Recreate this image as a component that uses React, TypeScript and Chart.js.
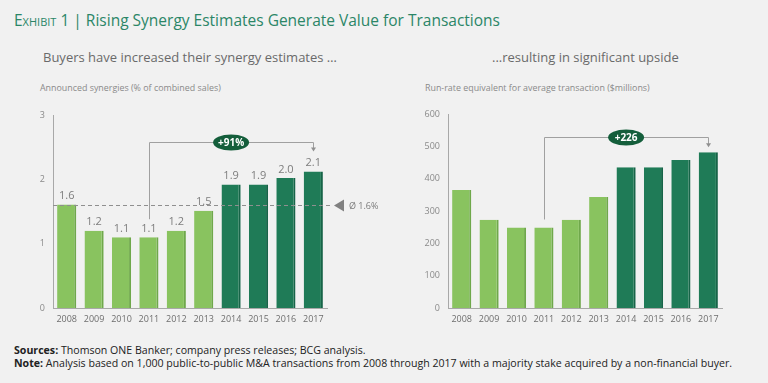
import React, { useEffect, useRef } from "react";
import { Chart, registerables } from "chart.js";
Chart.register(...registerables);

const years = ["2008", "2009", "2010", "2011", "2012", "2013", "2014", "2015", "2016", "2017"];
const synergies = [1.61, 1.2, 1.1, 1.1, 1.2, 1.51, 1.92, 1.92, 2.02, 2.12];
const synergyLabels = ["1.6", "1.2", "1.1", "1.1", "1.2", "1.5", "1.9", "1.9", "2.0", "2.1"];
const runRate = [365, 273, 249, 249, 273, 343, 435, 435, 458, 482];
const synergyAverage = 1.6;
const synergyAvgLabel = "Ø 1.6%";
const synergyDelta = "+91%";
const runRateDelta = "+226";
const darkFromIndex = 6;
const bracketFrom = 3;
const bracketTo = 9;

const FONT = "'Open Sans', 'Noto Sans', sans-serif";
const LIGHT = "#89c35f";
const LIGHT_EDGE = "#6fa84b";
const DARK = "#1f7b57";
const DARK_EDGE = "#176448";
const PILL = "#145e3b";

function makePlugin(opts: { values: number[]; labels?: string[]; delta: string; avg?: number; avgLabel?: string }) {
  return {
    id: "annot",
    afterDatasetsDraw(chart: any) {
      const { ctx, scales, chartArea } = chart;
      const xs = scales.x, ys = scales.y;
      ctx.save();
      // average line
      if (opts.avg !== undefined) {
        const yy = Math.round(ys.getPixelForValue(opts.avg)) + 0.5;
        ctx.strokeStyle = "#8f8f8f";
        ctx.lineWidth = 1;
        ctx.setLineDash([4, 3]);
        ctx.beginPath();
        ctx.moveTo(chartArea.left, yy);
        ctx.lineTo(chartArea.right + 3, yy);
        ctx.stroke();
        ctx.setLineDash([]);
        ctx.fillStyle = "#808080";
        ctx.beginPath();
        ctx.moveTo(chartArea.right + 7, yy);
        ctx.lineTo(chartArea.right + 17, yy - 6);
        ctx.lineTo(chartArea.right + 17, yy + 6);
        ctx.closePath();
        ctx.fill();
        ctx.fillStyle = "#7a7a7a";
        ctx.font = `9px ${FONT}`;
        ctx.textAlign = "left";
        ctx.textBaseline = "middle";
        ctx.fillText(opts.avgLabel || "", chartArea.right + 22, yy + 0.5);
      }
      // value labels
      if (opts.labels) {
        ctx.fillStyle = "#7d7d7d";
        ctx.font = `11px ${FONT}`;
        ctx.textAlign = "center";
        ctx.textBaseline = "bottom";
        opts.values.forEach((v, i) => {
          ctx.fillText(opts.labels![i], xs.getPixelForValue(i), ys.getPixelForValue(v) - 3);
        });
      }
      // bracket
      const x1 = Math.round(xs.getPixelForValue(bracketFrom)) + 0.5;
      const x2 = Math.round(xs.getPixelForValue(bracketTo)) + 0.5;
      const yStart = ys.getPixelForValue(opts.values[bracketFrom]) - (opts.labels ? 18 : 8);
      const maxV = opts.values[bracketTo];
      const yTop = Math.round(ys.getPixelForValue(maxV) - (opts.labels ? 30 : 15)) + 0.5;
      const yEnd = ys.getPixelForValue(maxV) - (opts.labels ? 20 : 5);
      ctx.strokeStyle = "#a0a0a0";
      ctx.lineWidth = 1;
      ctx.beginPath();
      ctx.moveTo(x1, yStart);
      ctx.lineTo(x1, yTop);
      ctx.lineTo(x2, yTop);
      ctx.lineTo(x2, yEnd - 3);
      ctx.stroke();
      ctx.fillStyle = "#909090";
      ctx.beginPath();
      ctx.moveTo(x2 - 2.5, yEnd - 4);
      ctx.lineTo(x2 + 2.5, yEnd - 4);
      ctx.lineTo(x2, yEnd);
      ctx.closePath();
      ctx.fill();
      // pill
      const pcx = xs.getPixelForValue((bracketFrom + bracketTo) / 2);
      ctx.fillStyle = PILL;
      ctx.beginPath();
      ctx.ellipse(pcx, yTop, 18, 8, 0, 0, Math.PI * 2);
      ctx.fill();
      ctx.fillStyle = "#ffffff";
      ctx.font = `bold 10px ${FONT}`;
      ctx.textAlign = "center";
      ctx.textBaseline = "middle";
      ctx.fillText(opts.delta, pcx, yTop + 0.5);
      ctx.restore();
    },
  };
}

function BarChart(props: {
  values: number[];
  labels?: string[];
  max: number;
  step: number;
  delta: string;
  avg?: number;
  avgLabel?: string;
  left: number;
  right: number;
  top: number;
  bottom: number;
  height: number;
}) {
  const ref = useRef<HTMLCanvasElement>(null);
  useEffect(() => {
    const colors = props.values.map((_, i) => (i >= darkFromIndex ? DARK : LIGHT));
    const edges = props.values.map((_, i) => (i >= darkFromIndex ? DARK_EDGE : LIGHT_EDGE));
    const chart = new Chart(ref.current!, {
      type: "bar",
      data: {
        labels: years,
        datasets: [
          {
            data: props.values,
            backgroundColor: colors,
            borderColor: edges,
            borderWidth: { top: 0, left: 0, bottom: 0, right: 2 },
            borderSkipped: false,
            categoryPercentage: 1,
            barPercentage: 0.7,
          },
        ],
      },
      options: {
        animation: false,
        responsive: false,
        maintainAspectRatio: false,
        layout: { padding: { left: 0, right: 384 - props.right, top: props.top, bottom: 0 } },
        plugins: { legend: { display: false }, tooltip: { enabled: false } },
        scales: {
          x: {
            grid: { display: false, drawTicks: false },
            border: { display: true, color: "#a8a8a8" },
            ticks: { color: "#6e6e6e", font: { family: FONT, size: 9 }, padding: 6, maxRotation: 0 },
            afterFit: (s: any) => {
              s.height = props.height - props.bottom;
            },
          },
          y: {
            min: 0,
            max: props.max,
            grid: { display: false, drawTicks: false },
            border: { display: true, color: "#a8a8a8" },
            ticks: { stepSize: props.step, color: "#8a8a8a", font: { family: FONT, size: 9 }, padding: 8 },
            afterFit: (s: any) => {
              s.width = props.left;
            },
          },
        },
      },
      plugins: [makePlugin({ values: props.values, labels: props.labels, delta: props.delta, avg: props.avg, avgLabel: props.avgLabel })],
    });
    return () => chart.destroy();
  }, []);
  return <canvas ref={ref} width={384} height={props.height} style={{ width: 384, height: props.height, display: "block" }} />;
}

export default function App() {
  const text = (style: React.CSSProperties, children: React.ReactNode) => (
    <div style={{ position: "absolute", whiteSpace: "nowrap", fontFamily: FONT, ...style }}>{children}</div>
  );
  return (
    <div style={{ position: "fixed", left: 0, top: 0, width: 768, height: 383, background: "#f1f1f1", overflow: "hidden" }}>
      {text(
        { left: 14, top: 10, fontSize: 15.5, color: "#2b8667", lineHeight: "20px" },
        <>
          <span style={{ fontVariant: "small-caps" }}>Exhibit 1</span> | Rising Synergy Estimates Generate Value for Transactions
        </>
      )}
      {text({ left: 43, top: 48, fontSize: 13, color: "#6a6a6a", lineHeight: "18px" }, "Buyers have increased their synergy estimates …")}
      {text({ left: 492, top: 48, fontSize: 13, color: "#6a6a6a", lineHeight: "18px" }, "...resulting in significant upside")}
      {text({ left: 40, top: 82, fontSize: 8.9, color: "#8a8a8a", lineHeight: "12px" }, "Announced synergies (% of combined sales)")}
      {text({ left: 425, top: 82, fontSize: 8.9, color: "#8a8a8a", lineHeight: "12px" }, "Run-rate equivalent for average transaction ($millions)")}
      <div style={{ position: "absolute", left: 0, top: 100 }}>
        <BarChart
          values={synergies}
          labels={synergyLabels}
          max={3}
          step={1}
          delta={synergyDelta}
          avg={synergyAverage}
          avgLabel={synergyAvgLabel}
          left={53}
          right={327}
          top={15}
          bottom={208}
          height={235}
        />
      </div>
      <div style={{ position: "absolute", left: 384, top: 100 }}>
        <BarChart values={runRate} max={600} step={100} delta={runRateDelta} left={64} right={338} top={14} bottom={208} height={235} />
      </div>
      {text(
        { left: 14, top: 344, fontSize: 10.6, color: "#222", lineHeight: "13px" },
        <>
          <b>Sources:</b> Thomson ONE Banker; company press releases; BCG analysis.
          <br />
          <b>Note:</b> Analysis based on 1,000 public-to-public M&amp;A transactions from 2008 through 2017 with a majority stake acquired by a non-financial buyer.
        </>
      )}
    </div>
  );
}
